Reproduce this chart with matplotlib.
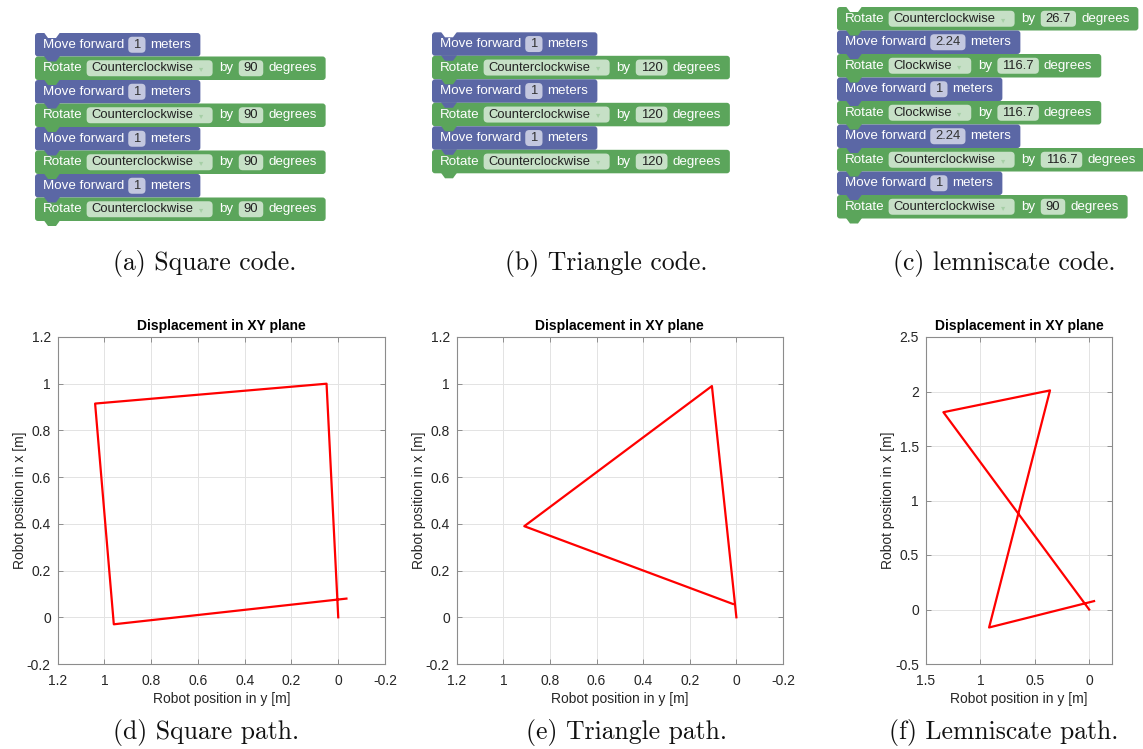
import matplotlib
matplotlib.use('Agg')
import matplotlib.pyplot as plt
from matplotlib.patches import FancyBboxPatch, Polygon
from matplotlib.ticker import FuncFormatter

# block programs shown in the top row
square_code = [('move', '1'), ('rotate', 'Counterclockwise', '90'),
               ('move', '1'), ('rotate', 'Counterclockwise', '90'),
               ('move', '1'), ('rotate', 'Counterclockwise', '90'),
               ('move', '1'), ('rotate', 'Counterclockwise', '90')]
triangle_code = [('move', '1'), ('rotate', 'Counterclockwise', '120'),
                 ('move', '1'), ('rotate', 'Counterclockwise', '120'),
                 ('move', '1'), ('rotate', 'Counterclockwise', '120')]
lemniscate_code = [('rotate', 'Counterclockwise', '26.7'), ('move', '2.24'),
                   ('rotate', 'Clockwise', '116.7'), ('move', '1'),
                   ('rotate', 'Clockwise', '116.7'), ('move', '2.24'),
                   ('rotate', 'Counterclockwise', '116.7'), ('move', '1'),
                   ('rotate', 'Counterclockwise', '90')]
code_captions = ['(a) Square code.', '(b) Triangle code.', '(c) lemniscate code.']

# measured robot paths (y on horizontal axis, x on vertical axis)
square_y = [0, 0.05, 1.04, 0.96, -0.035]
square_x = [0, 1.0, 0.915, -0.03, 0.08]
triangle_y = [0, 0.105, 0.91, 0.015]
triangle_x = [0, 0.99, 0.39, 0.057]
lemni_y = [0, 1.34, 0.36, 0.92, -0.045]
lemni_x = [0, 1.81, 2.01, -0.165, 0.077]
path_captions = ['(d) Square path.', '(e) Triangle path.', '(f) Lemniscate path.']

BLUE = '#5b67a5'
GREEN = '#5ba55b'
W, H = 1143, 749

fig = plt.figure(figsize=(W / 100, H / 100), dpi=100)
bg = fig.add_axes([0, 0, 1, 1])
bg.set_xlim(0, W)
bg.set_ylim(H, 0)
bg.axis('off')
rend = fig.canvas.get_renderer()


def put_text(x, y, s, **kw):
    t = bg.text(x, y, s, va='center', ha='left', **kw)
    return t.get_window_extent(renderer=rend).width


def field(x, yc, s, fc, tc, arrow=False, arrow_col='#a6cfa6'):
    t = bg.text(x + 5, yc, s, va='center', ha='left', fontsize=9.4,
                family='Liberation Sans', color=tc, zorder=4)
    tw = t.get_window_extent(renderer=rend).width
    fw = tw + 10 + (14 if arrow else 0)
    bg.add_patch(FancyBboxPatch((x, yc - 8), fw, 16,
                                boxstyle='round,pad=0,rounding_size=4',
                                fc=fc, ec='none', zorder=3))
    if arrow:
        bg.text(x + tw + 12, yc + 0.5, '\u25be', va='center', ha='center',
                fontsize=6, color=arrow_col, family='DejaVu Sans', zorder=4)
    return fw


def draw_program(code, x0, y0, h=23.5):
    prev = None
    for i, blk in enumerate(code):
        top = y0 + i * h
        yc = top + h / 2
        col = BLUE if blk[0] == 'move' else GREEN
        cur = x0 + 8
        lab = dict(fontsize=9.6, family='Liberation Sans', color='white', zorder=4)
        if blk[0] == 'move':
            cur += put_text(cur, yc, 'Move forward', **lab) + 4
            cur += field(cur, yc, blk[1], '#c3c7df', '#333333') + 5
            cur += put_text(cur, yc, 'meters', **lab)
        else:
            cur += put_text(cur, yc, 'Rotate', **lab) + 4
            cur += field(cur, yc, blk[1], '#c6e0c6', '#222222', arrow=True) + 7
            cur += put_text(cur, yc, 'by', **lab) + 5
            cur += field(cur, yc, blk[2], '#c6e0c6', '#222222') + 5
            cur += put_text(cur, yc, 'degrees', **lab)
        right = cur + 9
        bg.add_patch(FancyBboxPatch((x0, top), right - x0, h,
                                    boxstyle='round,pad=0,rounding_size=3',
                                    fc=col, ec='none', zorder=1))
        tab_col = prev if prev is not None else 'white'
        bg.add_patch(Polygon([(x0 + 9, top - 0.5), (x0 + 13, top + 5),
                              (x0 + 21, top + 5), (x0 + 25, top - 0.5)],
                             closed=True, fc=tab_col, ec='none', zorder=2))
        prev = col
    bottom = y0 + len(code) * h
    bg.add_patch(Polygon([(x0 + 9, bottom - 0.5), (x0 + 13, bottom + 5),
                          (x0 + 21, bottom + 5), (x0 + 25, bottom - 0.5)],
                         closed=True, fc=prev, ec='none', zorder=2))


draw_program(square_code, 35, 33)
draw_program(triangle_code, 432, 32.3)
draw_program(lemniscate_code, 837, 7)

cap = dict(fontsize=18.5, family='cmr10', ha='center', va='center', color='#111111')
for xc, s in zip([205, 606, 1004], code_captions):
    bg.text(xc, 263.5, s, **cap)
for xc, s in zip([206, 627, 1004], path_captions):
    bg.text(xc, 732.5, s, **cap)

# path plots
fmt = FuncFormatter(lambda v, p: '%g' % round(v, 6))
panels = [
    (57.7, 327.3, square_y, square_x, (1.2, -0.2), (-0.2, 1.2),
     [1.2, 1, 0.8, 0.6, 0.4, 0.2, 0, -0.2], [-0.2, 0, 0.2, 0.4, 0.6, 0.8, 1, 1.2]),
    (456.7, 326.3, triangle_y, triangle_x, (1.2, -0.2), (-0.2, 1.2),
     [1.2, 1, 0.8, 0.6, 0.4, 0.2, 0, -0.2], [-0.2, 0, 0.2, 0.4, 0.6, 0.8, 1, 1.2]),
    (926, 186, lemni_y, lemni_x, (1.5, -0.21), (-0.5, 2.5),
     [1.5, 1, 0.5, 0], [-0.5, 0, 0.5, 1, 1.5, 2, 2.5]),
]
top, bot = 337, 664
for left, width, py, px, xl, yl, xt, yt in panels:
    ax = fig.add_axes([left / W, 1 - bot / H, width / W, (bot - top) / H])
    ax.plot(py, px, color='red', lw=1.6)
    ax.set_xlim(*xl)
    ax.set_ylim(*yl)
    ax.set_xticks(xt)
    ax.set_yticks(yt)
    ax.xaxis.set_major_formatter(fmt)
    ax.yaxis.set_major_formatter(fmt)
    ax.grid(True, color='#e3e3e3', lw=0.7)
    ax.set_axisbelow(True)
    ax.tick_params(direction='in', top=True, right=True, length=3.5, width=0.6,
                   color='#808080', labelcolor='#262626', labelsize=10)
    ax.tick_params(axis='x', pad=7)
    ax.tick_params(axis='y', pad=5)
    for t in ax.get_xticklabels() + ax.get_yticklabels():
        t.set_family('Liberation Sans')
    for s in ax.spines.values():
        s.set_color('#8c8c8c')
        s.set_linewidth(0.8)
    ax.set_title('Displacement in XY plane', fontsize=10, fontweight='bold',
                 family='Liberation Sans', pad=5, color='black')
    ax.set_xlabel('Robot position in y [m]', fontsize=10, family='Liberation Sans',
                  color='#262626', labelpad=3)
    ax.set_ylabel('Robot position in x [m]', fontsize=10, family='Liberation Sans',
                  color='#262626', labelpad=0)

fig.savefig('out.png', dpi=100)
